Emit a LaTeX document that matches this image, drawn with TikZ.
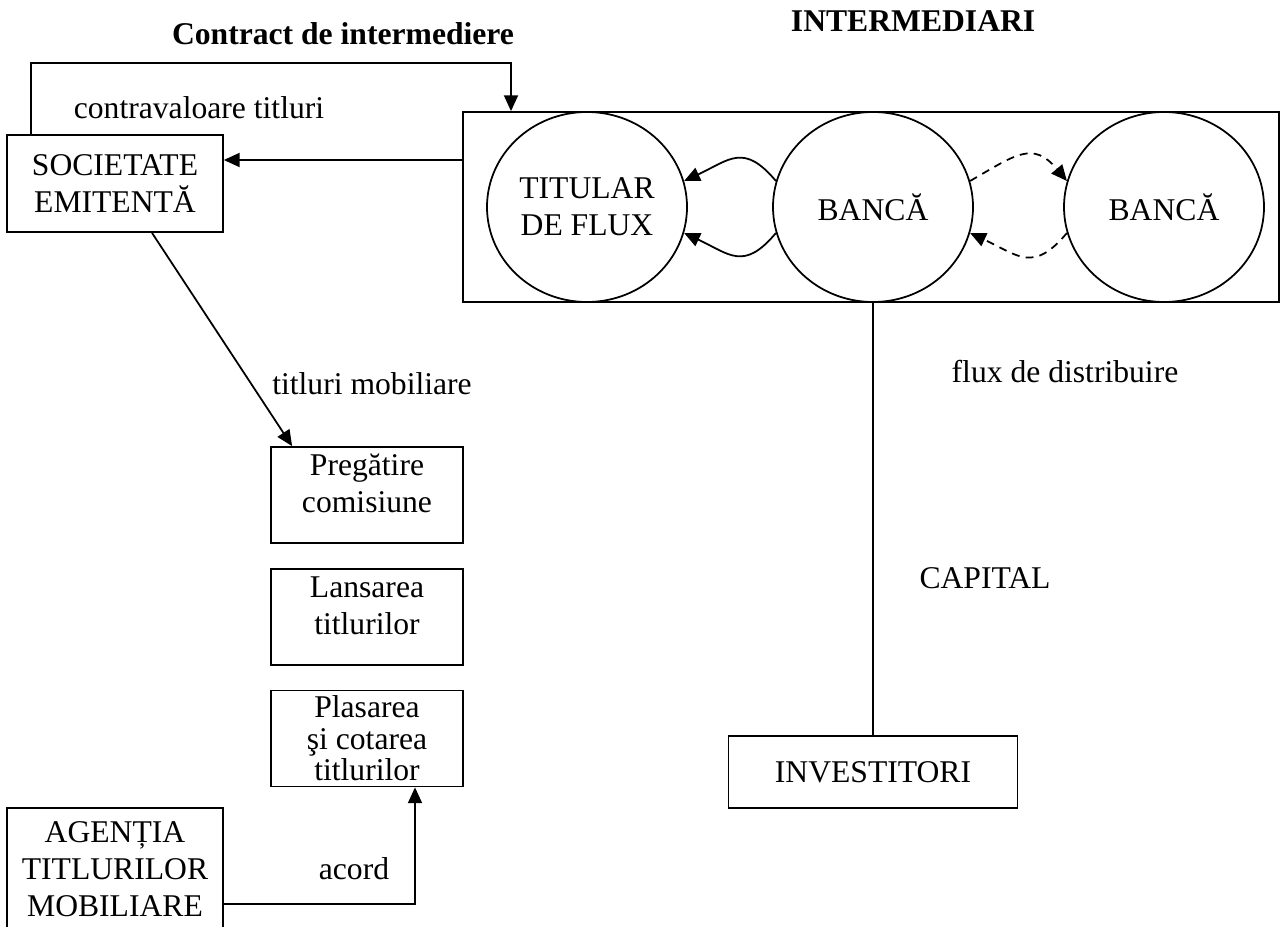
\documentclass[tikz,border=0pt]{standalone}
\usepackage{fontspec}
\setmainfont{Liberation Serif}
\usetikzlibrary{
	arrows.meta,		% arrow tips
	positioning,		% relative placement
	shapes.geometric,	% ellipse nodes
}

\begin{document}
\begin{tikzpicture}[
		line width=1pt,
		font=\fontsize{18}{21}\selectfont,
		box/.style={draw, rectangle, inner sep=0pt, align=center},
		stepbox/.style={box, minimum width=3.84cm, minimum height=1.92cm},
		bank/.style={draw, ellipse, inner sep=0pt, minimum width=4cm, minimum height=3.8cm, align=center},
		arr/.style={-{Triangle[length=9pt,width=8pt]}},
		dasharr/.style={arr, dash pattern=on 4.5pt off 3.5pt},
	]
	\useasboundingbox (0,0) rectangle (25.6,-18.54);
	\clip (0,0) rectangle (25.6,-18.54);

	% left column
	\node[box, minimum width=4.32cm, minimum height=1.94cm] (soc) at (2.30,-3.67) {SOCIETATE\\EMITENTĂ};
	\node[stepbox] (prep) at (7.34,-9.90) {Pregătire\\comisiune\\[-8pt]\mbox{}};
	\node[stepbox, below=0.48cm of prep] (lans) {Lansarea\\titlurilor\\[-8pt]\mbox{}};
	\node[stepbox, below=0.48cm of lans] (plas) {Plasarea\\[-3pt]şi cotarea\\[-3pt]titlurilor};
	\node[box, minimum width=4.32cm, minimum height=2.44cm] (agentia) at (2.30,-17.38) {AGENȚIA\\TITLURILOR\\MOBILIARE};

	% intermediari
	\node[draw, inner sep=0pt, minimum width=16.32cm, minimum height=3.8cm] (interm) at (17.42,-4.14) {};
	\node[bank] (titular) at (11.74,-4.14) {TITULAR\\DE FLUX};
	\node[bank] (banca) at (17.46,-4.14) {BANCĂ};
	\node[bank] (banca2) at (23.28,-4.14) {BANCĂ};
	\node[box, minimum width=5.78cm, minimum height=1.44cm] (inv) at (17.46,-15.44) {INVESTITORI};

	% labels
	\node (contract) at (6.86,-0.68) {\textbf{Contract de intermediere}};
	\node[anchor=base east] (intermlbl) at (20.84,-0.64) {\textbf{INTERMEDIARI}};
	\node (contraval) at (3.98,-2.16) {contravaloare titluri};
	\node (titlumob) at (7.44,-7.68) {titluri mobiliare};
	\node (flux) at (21.3,-7.44) {flux de distribuire};
	\node (capital) at (19.7,-11.56) {CAPITAL};
	\node (acord) at (7.08,-17.38) {acord};

	% connectors
	\coordinate (cleft) at (0.62,-1.26);
	\coordinate (cright) at (10.22,-1.26);
	\draw[arr] (cleft |- soc.north) -- (cleft) -- (cright) -- (cright |- interm.north);
	\coordinate (pay) at ([yshift=0.94cm]interm.west);
	\draw[arr] (pay) -- (pay -| soc.east);
	\draw[arr] ([xshift=0.74cm]soc.south) -- ([xshift=0.44cm]prep.north west);
	\coordinate (acc) at ([yshift=-0.70cm]agentia.east);
	\draw[arr] (acc) -| ([xshift=0.96cm]plas.south);
	\draw (banca.south) -- (inv.north);

	\draw[arr] (banca.165) to[out=130, in=25, looseness=1.4] (titular.15);
	\draw[arr] (banca.195) to[out=230, in=-25, looseness=1.4] (titular.-15);
	\draw[dasharr] (banca.15) to[out=30, in=130, looseness=1.4] (banca2.165);
	\draw[dasharr] (banca2.195) to[out=230, in=-25, looseness=1.4] (banca.-15);
\end{tikzpicture}
\end{document}
